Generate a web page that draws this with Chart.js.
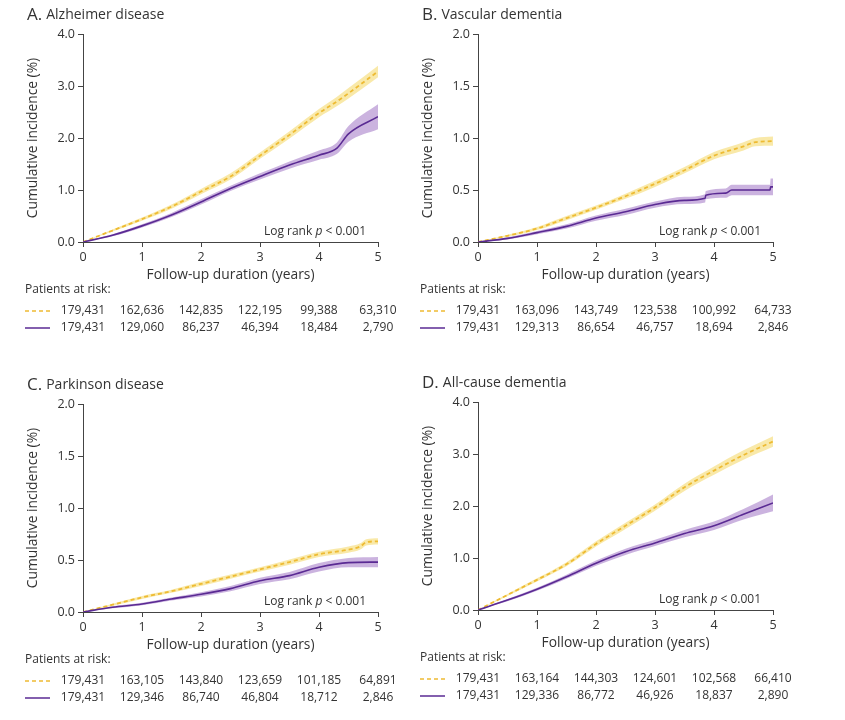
<!DOCTYPE html>
<html>
<head>
<meta charset="utf-8">
<script src="https://cdn.jsdelivr.net/npm/chart.js@4"></script>
<style>
  body { margin: 0; background: #fff; }
  .panel { position: absolute; width: 420px; height: 345px; }
</style>
</head>
<body>
<div class="panel" style="left:0;top:0"><canvas id="chartA" width="420" height="345"></canvas></div>
<div class="panel" style="left:395px;top:0"><canvas id="chartB" width="420" height="345"></canvas></div>
<div class="panel" style="left:0;top:370px"><canvas id="chartC" width="420" height="345"></canvas></div>
<div class="panel" style="left:395px;top:368px"><canvas id="chartD" width="420" height="345"></canvas></div>
<script>
// Shared axis ticks
const riskYears = [0, 1, 2, 3, 4, 5];

// A. Alzheimer disease
const alzDashYears = [0, 0.5, 1, 1.5, 2, 2.5, 3, 3.5, 4, 4.3, 4.5, 5];
const alzDash      = [0, 0.22, 0.44, 0.68, 0.97, 1.26, 1.66, 2.06, 2.48, 2.70, 2.86, 3.28];
const alzDashLo    = [0, 0.20, 0.41, 0.64, 0.92, 1.20, 1.60, 1.99, 2.40, 2.61, 2.76, 3.17];
const alzDashHi    = [0, 0.24, 0.47, 0.72, 1.02, 1.32, 1.72, 2.13, 2.56, 2.79, 2.96, 3.39];
const alzSolidYears = [0, 0.5, 1, 1.5, 2, 2.5, 3, 3.5, 4, 4.3, 4.5, 5];
const alzSolid      = [0, 0.13, 0.31, 0.52, 0.77, 1.03, 1.26, 1.48, 1.67, 1.80, 2.08, 2.41];
const alzSolidLo    = [0, 0.11, 0.28, 0.48, 0.72, 0.98, 1.20, 1.41, 1.58, 1.69, 1.93, 2.17];
const alzSolidHi    = [0, 0.15, 0.34, 0.56, 0.82, 1.08, 1.32, 1.55, 1.76, 1.91, 2.23, 2.65];
const alzRiskDash  = ['179,431', '162,636', '142,835', '122,195', '99,388', '63,310'];
const alzRiskSolid = ['179,431', '129,060', '86,237', '46,394', '18,484', '2,790'];

// B. Vascular dementia
const vasDashYears = [0, 0.5, 1, 1.5, 2, 2.5, 3, 3.5, 4, 4.5, 4.7, 5];
const vasDash      = [0, 0.06, 0.13, 0.23, 0.33, 0.44, 0.56, 0.69, 0.83, 0.92, 0.96, 0.97];
const vasDashLo    = [0, 0.05, 0.115, 0.21, 0.31, 0.415, 0.53, 0.66, 0.795, 0.88, 0.92, 0.925];
const vasDashHi    = [0, 0.07, 0.145, 0.25, 0.35, 0.465, 0.59, 0.72, 0.865, 0.96, 1.00, 1.015];
const vasSolidYears = [0, 0.5, 1, 1.5, 2, 2.5, 3, 3.5, 3.85, 3.86, 4.2, 4.3, 4.95, 4.96, 5];
const vasSolid      = [0, 0.035, 0.09, 0.15, 0.23, 0.29, 0.36, 0.40, 0.42, 0.45, 0.47, 0.50, 0.50, 0.53, 0.53];
const vasSolidLo    = [0, 0.025, 0.075, 0.13, 0.205, 0.26, 0.33, 0.365, 0.38, 0.41, 0.425, 0.45, 0.45, 0.45, 0.45];
const vasSolidHi    = [0, 0.045, 0.105, 0.17, 0.255, 0.32, 0.39, 0.435, 0.46, 0.49, 0.515, 0.55, 0.55, 0.61, 0.61];
const vasRiskDash  = ['179,431', '163,096', '143,749', '123,538', '100,992', '64,733'];
const vasRiskSolid = ['179,431', '129,313', '86,654', '46,757', '18,694', '2,846'];

// C. Parkinson disease
const parDashYears = [0, 0.5, 1, 1.5, 2, 2.5, 3, 3.5, 4, 4.5, 4.7, 4.8, 5];
const parDash      = [0, 0.07, 0.14, 0.20, 0.27, 0.34, 0.41, 0.48, 0.555, 0.60, 0.63, 0.67, 0.68];
const parDashLo    = [0, 0.06, 0.125, 0.185, 0.25, 0.32, 0.39, 0.455, 0.53, 0.57, 0.60, 0.64, 0.65];
const parDashHi    = [0, 0.08, 0.155, 0.215, 0.29, 0.36, 0.43, 0.505, 0.58, 0.63, 0.66, 0.70, 0.71];
const parSolidYears = [0, 0.5, 1, 1.5, 2, 2.5, 3, 3.5, 4, 4.5, 5];
const parSolid      = [0, 0.045, 0.077, 0.125, 0.17, 0.225, 0.30, 0.35, 0.43, 0.475, 0.48];
const parSolidLo    = [0, 0.035, 0.065, 0.11, 0.15, 0.20, 0.27, 0.315, 0.39, 0.43, 0.43];
const parSolidHi    = [0, 0.055, 0.09, 0.14, 0.19, 0.25, 0.33, 0.385, 0.47, 0.52, 0.53];
const parRiskDash  = ['179,431', '163,105', '143,840', '123,659', '101,185', '64,891'];
const parRiskSolid = ['179,431', '129,346', '86,740', '46,804', '18,712', '2,846'];

// D. All-cause dementia
const allDashYears = [0, 0.5, 1, 1.5, 2, 2.5, 3, 3.5, 4, 4.5, 5];
const allDash      = [0, 0.29, 0.58, 0.88, 1.27, 1.62, 1.97, 2.36, 2.68, 2.98, 3.24];
const allDashLo    = [0, 0.27, 0.55, 0.84, 1.22, 1.56, 1.91, 2.29, 2.60, 2.89, 3.14];
const allDashHi    = [0, 0.31, 0.61, 0.92, 1.32, 1.68, 2.03, 2.43, 2.76, 3.07, 3.34];
const allSolidYears = [0, 0.5, 1, 1.5, 2, 2.5, 3, 3.5, 4, 4.5, 5];
const allSolid      = [0, 0.19, 0.40, 0.64, 0.90, 1.12, 1.29, 1.47, 1.62, 1.84, 2.06];
const allSolidLo    = [0, 0.17, 0.37, 0.60, 0.85, 1.06, 1.23, 1.40, 1.54, 1.74, 1.90];
const allSolidHi    = [0, 0.21, 0.43, 0.68, 0.95, 1.18, 1.35, 1.54, 1.70, 1.94, 2.22];
const allRiskDash  = ['179,431', '163,164', '144,303', '124,601', '102,568', '66,410'];
const allRiskSolid = ['179,431', '129,336', '86,772', '46,926', '18,837', '2,890'];

const FONT = "'Open Sans', sans-serif";
const TEXT = '#333';
const AXIS = '#444';
const YELLOW = '#eebb33';
const YELLOW_BAND = 'rgba(247, 226, 140, 0.75)';
const PURPLE = '#5a2a93';
const PURPLE_BAND = 'rgba(190, 160, 215, 0.8)';

function pts(xs, ys) {
    return xs.map((x, i) => ({ x: x, y: ys[i] }));
}

// draws the panel title, log rank note and the patients-at-risk table
const panelText = {
    id: 'panelText',
    afterDraw(chart) {
        const o = chart.options.plugins.panelText;
        const ctx = chart.ctx;
        const xs = chart.scales.x;
        const area = chart.chartArea;
        ctx.save();
        ctx.fillStyle = TEXT;
        ctx.textBaseline = 'middle';

        // title
        ctx.textAlign = 'left';
        ctx.font = `17px ${FONT}`;
        ctx.fillText(o.letter, 27, 15);
        const w = ctx.measureText(o.letter).width;
        ctx.font = `14px ${FONT}`;
        ctx.fillText(o.title, 27 + w + 4, 15);

        // log rank
        const part1 = 'Log rank ';
        const part3 = ' < 0.001';
        ctx.font = `italic 12px ${FONT}`;
        const wp = ctx.measureText('p').width;
        ctx.font = `12px ${FONT}`;
        const w1 = ctx.measureText(part1).width;
        const w3 = ctx.measureText(part3).width;
        const lx = area.right - 12 - (w1 + wp + w3);
        const ly = area.bottom - 10;
        ctx.fillText(part1, lx, ly);
        ctx.font = `italic 12px ${FONT}`;
        ctx.fillText('p', lx + w1, ly);
        ctx.font = `12px ${FONT}`;
        ctx.fillText(part3, lx + w1 + wp, ly);

        // patients at risk
        ctx.fillText('Patients at risk:', 25, 290);
        const rows = [
            { y: 311, vals: o.riskDash, color: YELLOW, dash: [4, 3] },
            { y: 328, vals: o.riskSolid, color: PURPLE, dash: [] }
        ];
        rows.forEach(r => {
            ctx.beginPath();
            ctx.setLineDash(r.dash);
            ctx.strokeStyle = r.color;
            ctx.lineWidth = 1.5;
            ctx.moveTo(25, r.y);
            ctx.lineTo(50, r.y);
            ctx.stroke();
            ctx.setLineDash([]);
            ctx.textAlign = 'center';
            r.vals.forEach((v, i) => {
                ctx.fillText(v, xs.getPixelForValue(riskYears[i]), r.y);
            });
            ctx.textAlign = 'left';
        });
        ctx.restore();
    }
};

function makeChart(id, cfg) {
    const maxY = cfg.maxY;
    new Chart(document.getElementById(id), {
        type: 'line',
        data: {
            datasets: [
                { data: pts(cfg.dashYears, cfg.dashLo), borderWidth: 0, pointRadius: 0, fill: false, order: 2 },
                { data: pts(cfg.dashYears, cfg.dashHi), borderWidth: 0, pointRadius: 0, fill: '-1', backgroundColor: YELLOW_BAND, order: 2 },
                { data: pts(cfg.dashYears, cfg.dash), borderColor: YELLOW, borderWidth: 1.8, borderDash: [4, 3], pointRadius: 0, fill: false, order: 1 },
                { data: pts(cfg.solidYears, cfg.solidLo), borderWidth: 0, pointRadius: 0, fill: false, order: 2 },
                { data: pts(cfg.solidYears, cfg.solidHi), borderWidth: 0, pointRadius: 0, fill: '-1', backgroundColor: PURPLE_BAND, order: 2 },
                { data: pts(cfg.solidYears, cfg.solid), borderColor: PURPLE, borderWidth: 1.6, pointRadius: 0, fill: false, order: 0 }
            ]
        },
        options: {
            responsive: false,
            animation: false,
            cubicInterpolationMode: 'monotone',
            layout: { padding: { left: 0, top: 34, right: 42, bottom: 62 } },
            scales: {
                x: {
                    type: 'linear',
                    min: 0,
                    max: 5,
                    afterFit: s => { s.height = 41; },
                    border: { display: true, color: AXIS, width: 1 },
                    grid: { drawOnChartArea: false, drawTicks: true, tickLength: 5, color: AXIS },
                    ticks: { stepSize: 1, color: TEXT, padding: 3, font: { family: FONT, size: 12.5 } },
                    title: { display: true, text: 'Follow-up duration (years)', color: TEXT, padding: 0, font: { family: FONT, size: 13.8 } }
                },
                y: {
                    min: 0,
                    max: maxY,
                    afterFit: s => { s.width = 83; },
                    border: { display: true, color: AXIS, width: 1 },
                    grid: { drawOnChartArea: false, drawTicks: true, tickLength: 5, color: AXIS },
                    ticks: {
                        stepSize: maxY / 4,
                        color: TEXT,
                        padding: 3,
                        font: { family: FONT, size: 12.5 },
                        callback: v => v.toFixed(1)
                    },
                    title: { display: true, text: 'Cumulative incidence (%)', color: TEXT, padding: { top: 25, bottom: 0 }, font: { family: FONT, size: 13.8 } }
                }
            },
            plugins: {
                legend: { display: false },
                tooltip: { enabled: false },
                panelText: { letter: cfg.letter, title: cfg.title, riskDash: cfg.riskDash, riskSolid: cfg.riskSolid }
            }
        },
        plugins: [panelText]
    });
}

makeChart('chartA', {
    letter: 'A.', title: 'Alzheimer disease', maxY: 4,
    dashYears: alzDashYears, dash: alzDash, dashLo: alzDashLo, dashHi: alzDashHi,
    solidYears: alzSolidYears, solid: alzSolid, solidLo: alzSolidLo, solidHi: alzSolidHi,
    riskDash: alzRiskDash, riskSolid: alzRiskSolid
});
makeChart('chartB', {
    letter: 'B.', title: 'Vascular dementia', maxY: 2,
    dashYears: vasDashYears, dash: vasDash, dashLo: vasDashLo, dashHi: vasDashHi,
    solidYears: vasSolidYears, solid: vasSolid, solidLo: vasSolidLo, solidHi: vasSolidHi,
    riskDash: vasRiskDash, riskSolid: vasRiskSolid
});
makeChart('chartC', {
    letter: 'C.', title: 'Parkinson disease', maxY: 2,
    dashYears: parDashYears, dash: parDash, dashLo: parDashLo, dashHi: parDashHi,
    solidYears: parSolidYears, solid: parSolid, solidLo: parSolidLo, solidHi: parSolidHi,
    riskDash: parRiskDash, riskSolid: parRiskSolid
});
makeChart('chartD', {
    letter: 'D.', title: 'All-cause dementia', maxY: 4,
    dashYears: allDashYears, dash: allDash, dashLo: allDashLo, dashHi: allDashHi,
    solidYears: allSolidYears, solid: allSolid, solidLo: allSolidLo, solidHi: allSolidHi,
    riskDash: allRiskDash, riskSolid: allRiskSolid
});
</script>
</body>
</html>
